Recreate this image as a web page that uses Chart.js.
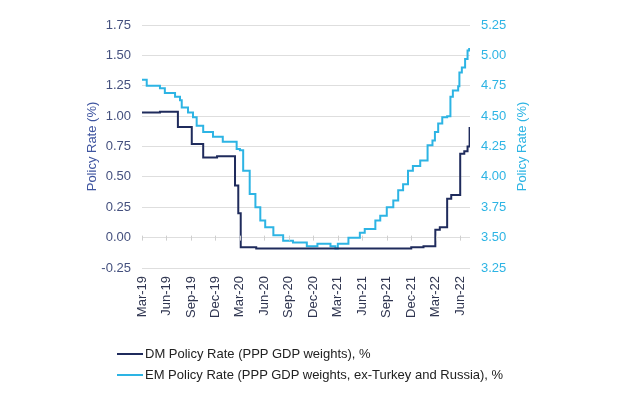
<!DOCTYPE html>
<html>
<head>
<meta charset="utf-8">
<script src="https://cdn.jsdelivr.net/npm/chart.js@4.4.1/dist/chart.umd.min.js"></script>
<style>
  html, body { margin: 0; padding: 0; background: #ffffff; }
  #wrap { position: relative; width: 624px; height: 396px; }
  #legend { position: absolute; left: 117px; top: 343px; font-family: "Liberation Sans", Arial, sans-serif; font-size: 13px; color: #222; }
  .item { display: flex; align-items: center; height: 21px; white-space: nowrap; }
  .swatch { width: 26px; height: 2px; margin-right: 2px; }
</style>
</head>
<body>
<div id="wrap">
  <canvas id="c" width="624" height="396"></canvas>
  <div id="legend"></div>
</div>
<script>
// Quarter tick labels (x axis: months since Mar-19)
const quarterLabels = ['Mar-19','Jun-19','Sep-19','Dec-19','Mar-20','Jun-20','Sep-20','Dec-20','Mar-21','Jun-21','Sep-21','Dec-21','Mar-22','Jun-22'];

// DM Policy Rate (left axis, %)
const dmMonths = [0, 2.2, 4.4, 6.1, 7.5, 9.2, 11.4, 11.8, 12.1, 14, 20, 26, 31, 33.0, 34.5, 35.95, 36.5, 37.4, 37.9, 39.0, 39.5, 39.9, 40.15];
const dmValues = [1.03, 1.035, 0.91, 0.77, 0.66, 0.67, 0.43, 0.20, -0.08, -0.09, -0.09, -0.09, -0.09, -0.08, -0.07, 0.065, 0.085, 0.32, 0.35, 0.69, 0.71, 0.75, 0.91];

// EM Policy Rate (right axis, %)
const emMonths = [0, 0.58, 2.2, 2.8, 4.05, 4.66, 4.87, 5.64, 6.25, 6.7, 7.5, 8.7, 9.9, 11.6, 12.0, 12.4, 13.2, 13.9, 14.5, 15.1, 16.1, 17.3, 18.5, 20.2, 21.5, 23.1, 23.7, 24.0, 25.3, 26.7, 27.3, 28.6, 29.2, 30.0, 30.8, 31.4, 32.0, 32.6, 33.2, 34.1, 35.0, 35.6, 35.9, 36.3, 36.8, 37.4, 37.8, 38.1, 38.75, 38.9, 39.2, 39.6, 39.9, 40.1];
const emValues = [4.80, 4.75, 4.73, 4.69, 4.66, 4.63, 4.57, 4.53, 4.49, 4.42, 4.37, 4.33, 4.29, 4.23, 4.22, 4.05, 3.86, 3.75, 3.64, 3.585, 3.52, 3.475, 3.46, 3.43, 3.45, 3.43, 3.41, 3.45, 3.50, 3.54, 3.57, 3.64, 3.68, 3.75, 3.805, 3.89, 3.94, 4.05, 4.09, 4.135, 4.26, 4.30, 4.37, 4.44, 4.49, 4.50, 4.66, 4.71, 4.745, 4.86, 4.90, 4.97, 5.04, 5.06];

const seriesNames = ['DM Policy Rate (PPP GDP weights), %', 'EM Policy Rate (PPP GDP weights, ex-Turkey and Russia), %'];
const dmColor = '#1f2b5c';
const emColor = '#2db4e4';
const font = { family: '"Liberation Sans", Arial, sans-serif', size: 13 };

const dmData = dmMonths.map((m, i) => ({ x: m, y: dmValues[i] }));
const emData = emMonths.map((m, i) => ({ x: m, y: emValues[i] }));

const extras = {
  id: 'extras',
  afterDraw(chart) {
    const ctx = chart.ctx;
    const a = chart.chartArea;
    const xs = chart.scales.x, ys = chart.scales.y;
    // small tick marks on the zero line
    const y0 = ys.getPixelForValue(0);
    ctx.save();
    ctx.strokeStyle = '#cfcfcf';
    ctx.lineWidth = 1;
    quarterLabels.forEach((l, i) => {
      const px = Math.round(xs.getPixelForValue(i * 3)) + 0.5;
      ctx.beginPath(); ctx.moveTo(px, y0 - 2); ctx.lineTo(px, y0 + 3); ctx.stroke();
    });
    // right axis title, reading bottom to top
    ctx.translate(a.right + 52, (a.top + a.bottom) / 2);
    ctx.rotate(-Math.PI / 2);
    ctx.fillStyle = emColor;
    ctx.font = '13px "Liberation Sans", Arial, sans-serif';
    ctx.textAlign = 'center';
    ctx.textBaseline = 'middle';
    ctx.fillText('Policy Rate (%)', 0, 0);
    ctx.restore();
  }
};

new Chart(document.getElementById('c'), {
  type: 'line',
  data: {
    datasets: [
      { label: seriesNames[0], data: dmData, borderColor: dmColor, borderWidth: 2, pointRadius: 0, stepped: 'before', yAxisID: 'y', fill: false },
      { label: seriesNames[1], data: emData, borderColor: emColor, borderWidth: 2, pointRadius: 0, stepped: 'before', yAxisID: 'y1', fill: false }
    ]
  },
  options: {
    responsive: false,
    animation: false,
    layout: { padding: { left: 80, right: 94, top: 25, bottom: 68 } },
    plugins: { legend: { display: false }, tooltip: { enabled: false } },
    scales: {
      x: {
        type: 'linear', min: 0, max: 40.2,
        afterBuildTicks: s => { s.ticks = quarterLabels.map((l, i) => ({ value: i * 3 })); },
        afterFit: s => { s.height = 60; },
        ticks: { autoSkip: false, maxRotation: 90, minRotation: 90, padding: 8, color: '#2f3550', font,
          callback: v => quarterLabels[Math.round(v / 3)] },
        grid: { display: false, drawTicks: false },
        border: { display: false }
      },
      y: {
        position: 'left', min: -0.25, max: 1.75,
        afterFit: s => { s.width = 62; },
        ticks: { stepSize: 0.25, padding: 11, color: '#44507e', font, callback: v => v.toFixed(2) },
        grid: { color: '#dedede', lineWidth: 1, drawTicks: false },
        border: { display: false },
        title: { display: true, text: 'Policy Rate (%)', color: '#3f55a0', font, padding: { top: 5, bottom: 0 } }
      },
      y1: {
        position: 'right', min: 3.25, max: 5.25,
        afterFit: s => { s.width = 60; },
        ticks: { stepSize: 0.25, padding: 11, color: emColor, font, callback: v => v.toFixed(2) },
        grid: { drawOnChartArea: false, drawTicks: false },
        border: { display: false }
      }
    }
  },
  plugins: [extras]
});

// HTML legend
const lg = document.getElementById('legend');
[[seriesNames[0], dmColor], [seriesNames[1], emColor]].forEach(([t, c]) => {
  const d = document.createElement('div'); d.className = 'item';
  const s = document.createElement('span'); s.className = 'swatch'; s.style.background = c;
  const tx = document.createElement('span'); tx.textContent = t;
  d.appendChild(s); d.appendChild(tx); lg.appendChild(d);
});
</script>
</body>
</html>
